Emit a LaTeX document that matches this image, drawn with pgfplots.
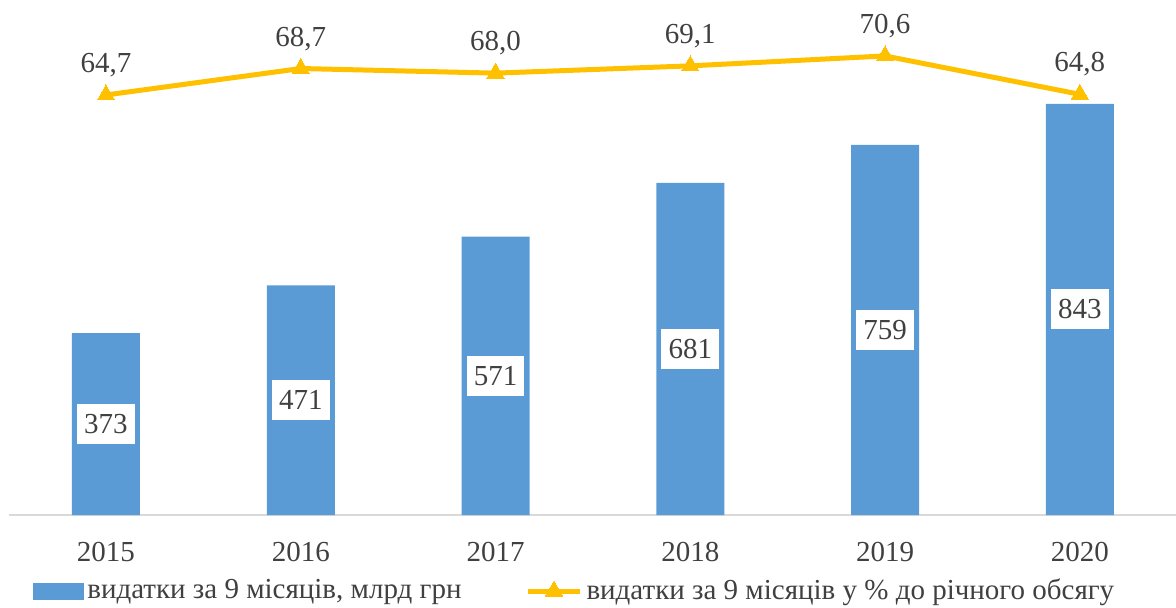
\documentclass[border=0pt]{standalone}
\usepackage{fontspec}
\setmainfont{Liberation Serif}
\usepackage{pgfplots}
\pgfplotsset{compat=1.18}
\usepackage{pgfplotstable}
\definecolor{barblue}{HTML}{5B9BD5}
\definecolor{lineyel}{HTML}{FFC000}
\definecolor{txt}{HTML}{404040}
\definecolor{axgray}{HTML}{D9D9D9}
\pgfplotsset{
  mylinelegend/.style={legend image code/.code={\draw[##1, mark repeat=2, mark phase=2] plot coordinates {(0pt,0pt) (13pt,0pt) (26pt,0pt)};}},
  mybarlegend/.style={legend image code/.code={\fill[barblue] (0pt,-4pt) rectangle (25pt,4pt);}},
}
\pgfplotstableread{
x v
0 373
1 471
2 571
3 681
4 759
5 843
}\bars
\pgfplotstableread{
x p
0 64.7
1 68.7
2 68.0
3 69.1
4 70.6
5 64.8
}\pct
\begin{document}
\fontsize{14.5}{17}\selectfont
\begin{tikzpicture}
\useasboundingbox (0,0) rectangle (588pt,303.5pt);
\begin{axis}[
  at={(4.3pt,46pt)}, anchor=south west,
  scale only axis, width=584.3pt, height=255pt,
  xmin=-0.5, xmax=5.5, ymin=0, ymax=1046,
  axis y line=none, axis x line*=bottom,
  x axis line style={draw=axgray, line width=0.8pt, -},
  xtick={0,...,5}, xticklabels={2015,2016,2017,2018,2019,2020},
  major tick length=0pt,
  xticklabel style={anchor=center, yshift=-18.5pt, text=txt, font=\fontsize{14.5}{17}\selectfont},
  /pgf/number format/assume math mode=true,
  clip=false,
]
\addplot[ybar, bar width=34pt, fill=barblue, draw=none] table[x=x, y=v] {\bars};
\addplot[draw=none, mark=none, nodes near coords, point meta=explicit,
  every node near coord/.append style={anchor=center, fill=white, text=txt, inner xsep=3.6pt, inner ysep=0pt, minimum height=20pt, font=\fontsize{14.5}{17}\selectfont}]
  table[x=x, y expr=\thisrow{v}/2, meta=v] {\bars};
\end{axis}
\begin{axis}[
  at={(4.3pt,46pt)}, anchor=south west,
  scale only axis, width=584.3pt, height=255pt,
  xmin=-0.5, xmax=5.5, ymin=1.2, ymax=78.3,
  hide axis, clip=false,
  /pgf/number format/assume math mode=true,
  legend columns=2,
  legend style={at={(axis description cs:0.485,-0.149)}, anchor=center, draw=none, fill=none,
    font=\fontsize{14.5}{17}\selectfont, text=txt, inner sep=0pt,
    /tikz/every even column/.append style={column sep=30pt}},
  legend cell align=left,
]
\addlegendimage{mybarlegend}
\addlegendentry{видатки за 9 місяців, млрд грн}
\addplot[color=lineyel, line width=2.5pt, mark=triangle*, mark size=5pt,
  mark options={fill=lineyel, draw=lineyel, line width=0pt},
  nodes near coords, point meta=explicit,
  every node near coord/.append style={anchor=south, inner sep=0pt, yshift=9pt, text=txt, font=\fontsize{14.5}{17}\selectfont,
    /pgf/number format/.cd, fixed, fixed zerofill, precision=1, use comma},
  mylinelegend
] table[x=x, y=p, meta=p] {\pct};
\addlegendentry{видатки за 9 місяців у \% до річного обсягу}
\end{axis}
\end{tikzpicture}
\end{document}
